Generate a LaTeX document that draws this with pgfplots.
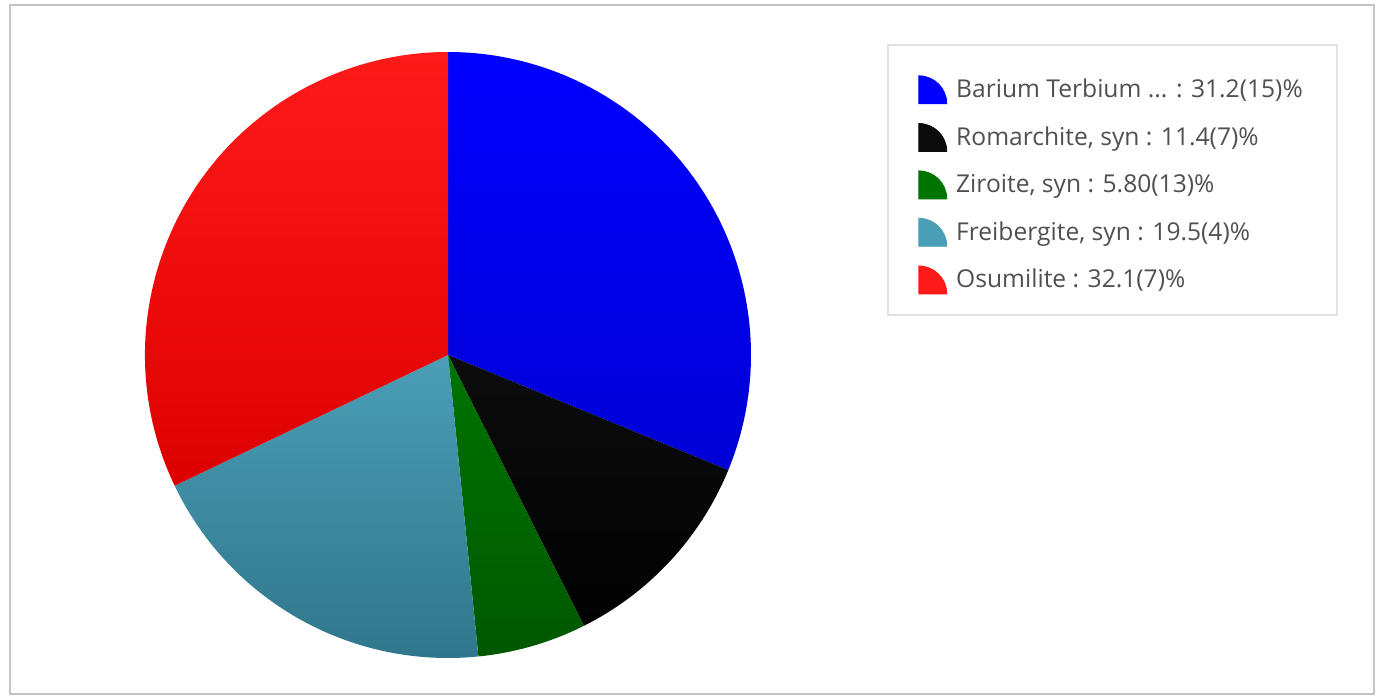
\documentclass[border=0pt]{standalone}
\usepackage{pgfplots}
\pgfplotsset{compat=1.18}
\usepackage{pgfplotstable}
\usepackage{fontspec}
\setmainfont{Open Sans}

\definecolor{pieblueT}{HTML}{0000FF}
\definecolor{pieblueB}{HTML}{0000D6}
\definecolor{pieblackT}{HTML}{0C0C0C}
\definecolor{pieblackB}{HTML}{020202}
\definecolor{piegreenT}{HTML}{007400}
\definecolor{piegreenB}{HTML}{005800}
\definecolor{pielbT}{HTML}{4A9EB6}
\definecolor{pielbB}{HTML}{2F7589}
\definecolor{pieredT}{HTML}{FF1A1A}
\definecolor{pieredB}{HTML}{DD0000}
\definecolor{legtext}{HTML}{505050}
\definecolor{framegray}{HTML}{C4C4C4}
\definecolor{legframe}{HTML}{E2E2E2}

% percentages, clockwise from 12 o'clock
\pgfplotstableread{
value top bottom
31.2 pieblueT pieblueB
11.4 pieblackT pieblackB
5.80 piegreenT piegreenB
19.5 pielbT pielbB
32.1 pieredT pieredB
}\piedata

\begin{document}
\begin{tikzpicture}
\begin{axis}[
  scale only axis, width=690pt, height=348.5pt,
  xmin=0, xmax=1380, ymin=0, ymax=697,
  hide axis, clip=false,
  legend cell align=left,
  legend style={draw=none, fill=none, at={(axis description cs:0.6652,0.893)},
    anchor=north west, font=\fontsize{12.3}{14}\selectfont, text=legtext,
    row sep=9pt, column sep=2.5pt, inner sep=0pt},
]
\path[fill=white] (axis cs:0,0) rectangle (axis cs:1380,697);
\draw[framegray, line width=1pt] (axis cs:10,3) rectangle (axis cs:1374,692);
\draw[legframe, line width=1pt] (axis cs:888,382) rectangle (axis cs:1337,652);

\def\cum{0}
\pgfplotsforeachungrouped \i in {0,...,4}{%
  \pgfplotstablegetelem{\i}{value}\of\piedata \let\v=\pgfplotsretval
  \pgfplotstablegetelem{\i}{top}\of\piedata \let\ct=\pgfplotsretval
  \pgfplotstablegetelem{\i}{bottom}\of\piedata \let\cb=\pgfplotsretval
  \pgfmathsetmacro\sa{90-3.6*\cum}%
  \pgfmathsetmacro\ea{90-3.6*(\cum+\v)}%
  \pgfmathsetmacro\cum{\cum+\v}%
  \edef\temp{\noexpand\shade[top color=\ct, bottom color=\cb]
    (axis cs:448,342) -- ++(\sa:151.5pt) arc[start angle=\sa, end angle=\ea, radius=151.5pt] -- cycle;}%
  \temp
}

\addlegendimage{legend image code/.code={\fill[pieblueT] (0pt,-7pt) -- (0pt,7pt) arc[start angle=90,end angle=0,radius=14pt] -- cycle;}}
\addlegendentry{Barium Terbium ... : 31.2(15)\%}
\addlegendimage{legend image code/.code={\fill[pieblackT] (0pt,-7pt) -- (0pt,7pt) arc[start angle=90,end angle=0,radius=14pt] -- cycle;}}
\addlegendentry{Romarchite, syn : 11.4(7)\%}
\addlegendimage{legend image code/.code={\fill[piegreenT] (0pt,-7pt) -- (0pt,7pt) arc[start angle=90,end angle=0,radius=14pt] -- cycle;}}
\addlegendentry{Ziroite, syn : 5.80(13)\%}
\addlegendimage{legend image code/.code={\fill[pielbT] (0pt,-7pt) -- (0pt,7pt) arc[start angle=90,end angle=0,radius=14pt] -- cycle;}}
\addlegendentry{Freibergite, syn : 19.5(4)\%}
\addlegendimage{legend image code/.code={\fill[pieredT] (0pt,-7pt) -- (0pt,7pt) arc[start angle=90,end angle=0,radius=14pt] -- cycle;}}
\addlegendentry{Osumilite : 32.1(7)\%}
\end{axis}
\end{tikzpicture}
\end{document}
